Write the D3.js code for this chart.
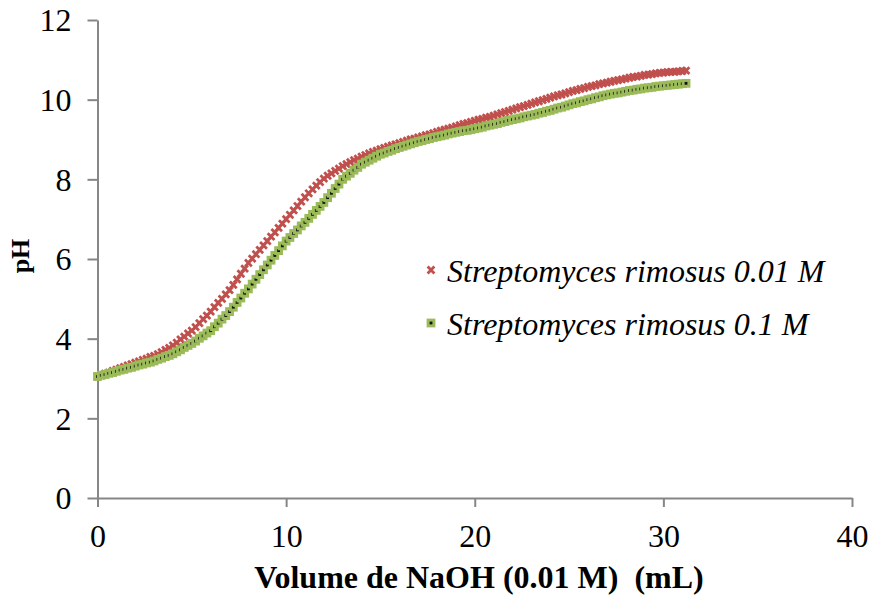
<!DOCTYPE html>
<html>
<head>
<meta charset="utf-8">
<script src="https://cdn.jsdelivr.net/npm/d3@7/dist/d3.min.js"></script>
<style>
  html, body { margin: 0; padding: 0; background: #ffffff; }
  svg { display: block; }
</style>
</head>
<body>
<svg id="chart" width="873" height="602"></svg>
<script>
// ---- data ----
const volumes = [
  0.0, 0.2, 0.4, 0.6, 0.8, 1.0, 1.2, 1.4, 1.6, 1.8,
  2.0, 2.2, 2.4, 2.6, 2.8, 3.0, 3.2, 3.4, 3.6, 3.8,
  4.0, 4.2, 4.4, 4.6, 4.8, 5.0, 5.2, 5.4, 5.6, 5.8,
  6.0, 6.2, 6.4, 6.6, 6.8, 7.0, 7.2, 7.4, 7.6, 7.8,
  8.0, 8.2, 8.4, 8.6, 8.8, 9.0, 9.2, 9.4, 9.6, 9.8,
  10.0, 10.2, 10.4, 10.6, 10.8, 11.0, 11.2, 11.4, 11.6, 11.8,
  12.0, 12.2, 12.4, 12.6, 12.8, 13.0, 13.2, 13.4, 13.6, 13.8,
  14.0, 14.2, 14.4, 14.6, 14.8, 15.0, 15.2, 15.4, 15.6, 15.8,
  16.0, 16.2, 16.4, 16.6, 16.8, 17.0, 17.2, 17.4, 17.6, 17.8,
  18.0, 18.2, 18.4, 18.6, 18.8, 19.0, 19.2, 19.4, 19.6, 19.8,
  20.0, 20.2, 20.4, 20.6, 20.8, 21.0, 21.2, 21.4, 21.6, 21.8,
  22.0, 22.2, 22.4, 22.6, 22.8, 23.0, 23.2, 23.4, 23.6, 23.8,
  24.0, 24.2, 24.4, 24.6, 24.8, 25.0, 25.2, 25.4, 25.6, 25.8,
  26.0, 26.2, 26.4, 26.6, 26.8, 27.0, 27.2, 27.4, 27.6, 27.8,
  28.0, 28.2, 28.4, 28.6, 28.8, 29.0, 29.2, 29.4, 29.6, 29.8,
  30.0, 30.2, 30.4, 30.6, 30.8, 31.0, 31.2
];

const phLow = [ // Streptomyces rimosus 0.01 M
  3.05, 3.08, 3.12, 3.15, 3.19, 3.22, 3.26, 3.29, 3.33, 3.36,
  3.40, 3.43, 3.47, 3.50, 3.54, 3.57, 3.61, 3.66, 3.72, 3.77,
  3.83, 3.90, 3.98, 4.05, 4.13, 4.20, 4.29, 4.39, 4.49, 4.58,
  4.68, 4.79, 4.90, 5.00, 5.11, 5.22, 5.35, 5.49, 5.63, 5.76,
  5.90, 6.01, 6.12, 6.23, 6.34, 6.45, 6.56, 6.67, 6.78, 6.89,
  7.00, 7.11, 7.22, 7.33, 7.44, 7.55, 7.65, 7.75, 7.84, 7.93,
  8.02, 8.09, 8.15, 8.21, 8.27, 8.33, 8.38, 8.43, 8.48, 8.52,
  8.57, 8.61, 8.65, 8.69, 8.72, 8.76, 8.79, 8.82, 8.85, 8.88,
  8.91, 8.94, 8.97, 9.00, 9.02, 9.05, 9.08, 9.11, 9.13, 9.16,
  9.19, 9.22, 9.25, 9.27, 9.30, 9.33, 9.36, 9.39, 9.41, 9.44,
  9.47, 9.50, 9.52, 9.55, 9.57, 9.60, 9.63, 9.66, 9.69, 9.72,
  9.75, 9.78, 9.81, 9.84, 9.87, 9.90, 9.93, 9.96, 9.99, 10.02,
  10.05, 10.08, 10.11, 10.13, 10.16, 10.19, 10.22, 10.24, 10.27, 10.29,
  10.32, 10.34, 10.36, 10.39, 10.41, 10.43, 10.45, 10.47, 10.49, 10.51,
  10.53, 10.55, 10.57, 10.58, 10.60, 10.62, 10.63, 10.64, 10.66, 10.67,
  10.68, 10.69, 10.70, 10.70, 10.71, 10.72, 10.73
];

const phHigh = [ // Streptomyces rimosus 0.1 M
  3.05, 3.08, 3.10, 3.13, 3.15, 3.18, 3.21, 3.23, 3.26, 3.28,
  3.31, 3.34, 3.36, 3.39, 3.41, 3.44, 3.48, 3.51, 3.55, 3.58,
  3.62, 3.67, 3.72, 3.78, 3.83, 3.88, 3.94, 4.01, 4.07, 4.14,
  4.20, 4.30, 4.39, 4.49, 4.58, 4.68, 4.79, 4.91, 5.02, 5.14,
  5.25, 5.37, 5.49, 5.61, 5.73, 5.85, 5.97, 6.09, 6.21, 6.33,
  6.45, 6.54, 6.64, 6.73, 6.83, 6.92, 7.02, 7.12, 7.22, 7.32,
  7.42, 7.54, 7.65, 7.77, 7.88, 8.00, 8.08, 8.15, 8.23, 8.30,
  8.38, 8.43, 8.48, 8.53, 8.58, 8.63, 8.66, 8.70, 8.73, 8.77,
  8.80, 8.83, 8.86, 8.89, 8.92, 8.95, 8.97, 9.00, 9.02, 9.05,
  9.07, 9.09, 9.11, 9.14, 9.16, 9.18, 9.20, 9.22, 9.23, 9.25,
  9.27, 9.29, 9.31, 9.34, 9.36, 9.38, 9.40, 9.43, 9.45, 9.48,
  9.50, 9.52, 9.54, 9.57, 9.59, 9.61, 9.63, 9.66, 9.68, 9.71,
  9.73, 9.76, 9.79, 9.81, 9.84, 9.87, 9.90, 9.92, 9.95, 9.97,
  10.00, 10.02, 10.05, 10.07, 10.10, 10.12, 10.14, 10.16, 10.17, 10.19,
  10.21, 10.23, 10.24, 10.26, 10.27, 10.29, 10.30, 10.31, 10.33, 10.34,
  10.35, 10.36, 10.37, 10.38, 10.39, 10.40, 10.41
];

const seriesNames = ["Streptomyces rimosus 0.01 M", "Streptomyces rimosus 0.1 M"];
const xTicks = [0, 10, 20, 30, 40];
const yTicks = [0, 2, 4, 6, 8, 10, 12];
const xTitle = "Volume de NaOH (0.01 M)  (mL)";
const yTitle = "pH";

// ---- drawing ----
const svg = d3.select("#chart");
const axisColor = "#868686";
const redColor = "#C0504D";
const greenColor = "#9BBB59";
const fontFam = "'Liberation Serif', 'Times New Roman', Tinos, serif";

const x = d3.scaleLinear().domain([0, 40]).range([97.5, 852]);
const y = d3.scaleLinear().domain([0, 12]).range([498, 20]);

const xAxis = svg.append("g")
  .attr("transform", `translate(0,${y(0)})`)
  .call(d3.axisBottom(x).tickValues(xTicks).tickSize(9).tickPadding(17).tickSizeOuter(0));
const yAxis = svg.append("g")
  .attr("transform", `translate(${x(0)},0)`)
  .call(d3.axisLeft(y).tickValues(yTicks).tickSize(10).tickPadding(16).tickSizeOuter(0));

[xAxis, yAxis].forEach(g => {
  g.select(".domain").attr("stroke", axisColor).attr("stroke-width", 2);
  g.selectAll(".tick line").attr("stroke", axisColor).attr("stroke-width", 2);
  g.selectAll(".tick text")
    .attr("fill", "#000")
    .style("font-family", fontFam)
    .style("font-size", "32px");
});
yAxis.selectAll(".tick text").attr("dy", "0.34em");

// axis titles
svg.append("text")
  .attr("x", 479).attr("y", 588)
  .attr("text-anchor", "middle")
  .style("font-family", fontFam)
  .style("font-size", "32px")
  .style("font-weight", "bold")
  .style("white-space", "pre")
  .attr("xml:space", "preserve")
  .text(xTitle);

svg.append("text")
  .attr("transform", `translate(29,256) rotate(-90)`)
  .attr("text-anchor", "middle")
  .style("font-family", fontFam)
  .style("font-size", "26px")
  .style("font-weight", "bold")
  .text(yTitle);

// series data
const lowData = volumes.map((v, i) => ({ v, ph: phLow[i] }));
const highData = volumes.map((v, i) => ({ v, ph: phHigh[i] }));

const crossPath = (s) => `M${-s},${-s}L${s},${s}M${-s},${s}L${s},${-s}`;

function drawCross(g, cx, cy) {
  g.append("path")
    .attr("transform", `translate(${cx},${cy})`)
    .attr("d", crossPath(3.4))
    .attr("stroke", redColor)
    .attr("stroke-width", 2.8)
    .attr("fill", "none");
}
function drawSquare(g, cx, cy) {
  g.append("rect")
    .attr("x", cx - 4.4).attr("y", cy - 4.4)
    .attr("width", 8.8).attr("height", 8.8)
    .attr("fill", greenColor);
  g.append("rect")
    .attr("x", cx - 1.4).attr("y", cy - 1.4)
    .attr("width", 2.8).attr("height", 2.8)
    .attr("fill", "#111");
}

// red series (drawn first, green on top)
const gLow = svg.append("g");
lowData.forEach(d => drawCross(gLow, x(d.v), y(d.ph)));

const gHigh = svg.append("g");
highData.forEach(d => drawSquare(gHigh, x(d.v), y(d.ph)));

// legend
const legend = svg.append("g");
drawCross(legend, 431, 270);
legend.append("text")
  .attr("x", 447).attr("y", 282)
  .style("font-family", fontFam).style("font-size", "32px").style("font-style", "italic")
  .text(seriesNames[0]);
drawSquare(legend, 431, 323);
legend.append("text")
  .attr("x", 447).attr("y", 335)
  .style("font-family", fontFam).style("font-size", "32px").style("font-style", "italic")
  .text(seriesNames[1]);
</script>
</body>
</html>
